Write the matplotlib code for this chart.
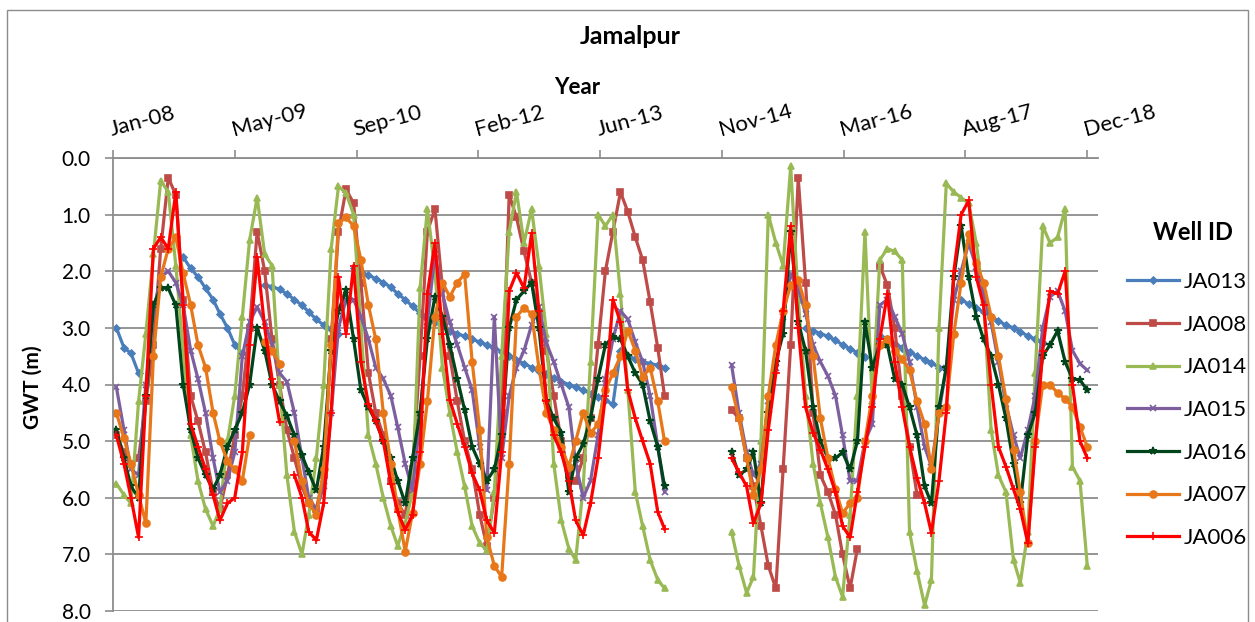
import numpy as np
import matplotlib
matplotlib.use('Agg')
import matplotlib.pyplot as plt
from matplotlib.patches import Rectangle
from datetime import date, timedelta

plt.rcParams['font.family'] = ['Lato', 'DejaVu Sans']

N = None
# one value per month, mid-month, Jan 2008 .. Dec 2018
months = [date(y, m, 15) for y in range(2008, 2019) for m in range(1, 13)]

ja013 = [3.0, 3.35, 3.45, 3.8, N, N, N, N, N, 1.75, 1.95, 2.1,
         2.3, 2.5, 2.75, 3.0, 3.3, 3.45, N, N, 2.25, 2.27, 2.32, 2.4,
         2.5, 2.6, 2.72, 2.85, 2.95, 3.02, 3.1, N, 1.95, 2.02, 2.07, 2.13,
         2.2, 2.28, 2.4, 2.5, 2.62, 2.74, 2.82, 2.9, 2.97, 3.05, 3.1, 3.15,
         3.2, 3.25, 3.3, 3.35, 3.42, 3.5, 3.57, 3.63, 3.7, 3.76, 3.82, 3.88,
         3.95, 4.0, 4.05, 4.1, 4.16, 4.22, 4.28, 4.35, 3.4, 3.5, 3.55, 3.6,
         3.63, 3.66, 3.7, N, N, N, N, N, N, N, N, N,
         N, N, N, N, N, N, N, N, N, 3.0, 3.05, 3.1,
         3.15, 3.22, 3.3, 3.37, 3.44, 3.52, N, 3.15, 3.2, 3.28, 3.35, 3.42,
         3.5, 3.56, 3.62, 3.7, N, N, 2.5, 2.58, 2.65, 2.72, 2.8, 2.88,
         2.95, 3.0, 3.07, 3.14, 3.2, 3.27, N, N, N, N, N, N]

ja008 = [4.9, 5.2, 5.4, 5.3, 4.3, 3.3, 1.6, 0.35, 0.65, 2.5, 4.2, 4.65,
         5.2, 5.9, 6.2, 5.6, 4.9, 4.2, 3.0, 1.3, 2.0, 3.2, 4.0, 4.8,
         5.3, 5.8, 6.1, 6.2, 5.6, 3.2, 1.3, 0.55, 0.8, 2.2, 3.8, 4.5,
         4.9, 5.7, 6.1, 6.3, 5.5, 3.5, 1.3, 0.9, 2.3, 3.5, 4.3, 5.0,
         5.5, 6.3, 6.85, 6.0, 4.5, 0.65, 1.05, 1.65, 2.2, 2.75, 3.4, 4.2,
         5.0, 5.6, 5.7, 5.3, 4.6, 3.3, 2.0, 1.3, 0.6, 0.95, 1.4, 1.8,
         2.55, 3.35, 4.2, N, N, N, N, N, N, N, N, 4.45,
         4.6, 5.3, 5.8, 6.5, 7.2, 7.6, 5.5, 3.3, 0.35, 2.2, 4.5, 5.6,
         5.9, 6.3, 7.0, 7.6, 6.9, N, N, 1.9, 2.25, 3.0, 4.2, 5.1,
         5.95, N, N, N, N, N, N, N, N, N, N, N,
         N, N, N, N, N, N, N, N, N, N, N, N]

ja014 = [5.75, 5.95, 6.1, 4.3, 3.1, 1.7, 0.4, 0.6, 1.9, 3.4, 4.9, 5.7,
         6.2, 6.5, 6.2, 5.0, 4.2, 2.8, 1.45, 0.7, 1.7, 1.9, 4.0, 5.6,
         6.6, 7.0, 6.3, 5.3, 4.0, 1.6, 0.5, 0.62, 1.0, 3.0, 4.9, 5.4,
         6.0, 6.5, 6.85, 6.45, 5.9, 2.3, 0.9, 2.0, 3.7, 4.5, 5.2, 5.8,
         6.5, 6.8, 6.93, 5.9, 3.5, 1.3, 0.6, 1.5, 0.9, 1.9, 3.1, 5.4,
         6.4, 6.9, 7.1, 5.8, 3.6, 1.0, 1.2, 1.0, 2.4, 4.1, 5.9, 6.5,
         7.1, 7.45, 7.6, N, N, N, N, N, N, N, N, 6.6,
         7.2, 7.68, 7.4, 5.0, 1.0, 1.5, 1.9, 0.15, 2.5, 4.2, 5.4, 6.1,
         6.7, 7.4, 7.75, 6.3, 4.2, 1.3, 4.3, 1.8, 1.6, 1.65, 1.8, 6.6,
         7.3, 7.9, 7.45, 3.0, 0.45, 0.6, 0.7, 0.8, 1.5, 2.5, 4.8, 5.6,
         5.9, 7.1, 7.5, 6.6, 3.8, 1.2, 1.5, 1.4, 0.9, 5.45, 5.7, 7.2]

ja015 = [4.05, 4.8, 5.5, 5.6, 4.0, 2.7, 2.1, 2.0, 2.2, 2.6, 3.4, 3.9,
         4.5, 5.3, 5.9, 5.7, 5.2, 3.5, 2.9, 2.63, 2.9, 3.3, 3.8, 3.95,
         4.5, 5.3, 6.0, 6.2, 5.8, 4.5, 3.0, 2.5, 2.5, 2.8, 3.2, 3.7,
         3.9, 4.2, 4.75, 5.4, 5.87, 4.6, 2.9, 1.7, 2.4, 2.9, 3.3, 3.7,
         4.1, 5.1, 5.87, 2.8, 5.3, 4.2, 3.7, 3.4, 2.95, 2.63, 3.27, 3.6,
         4.0, 4.4, 5.4, 6.0, 5.7, 4.9, 3.9, 3.2, 2.7, 2.85, 3.25, 3.6,
         4.2, 5.1, 5.9, N, N, N, N, N, N, N, N, 3.65,
         4.5, 5.2, 5.6, 5.4, 4.3, 3.7, 2.8, 2.05, 2.3, 2.75, 3.3, 3.6,
         3.85, 4.2, 4.9, 5.7, 5.7, 5.0, 4.7, 2.6, 2.5, 2.8, 3.1, 3.6,
         4.4, 5.1, 5.45, 4.5, 3.7, 2.5, 2.0, 1.5, 1.93, 2.4, 2.9, 3.6,
         4.35, 4.9, 5.3, 4.8, 4.2, 3.0, 2.45, 2.35, 2.7, 3.4, 3.63, 3.75]

ja016 = [4.8, 5.3, 5.8, 6.0, 4.2, 2.6, 2.3, 2.3, 2.6, 4.0, 4.8, 5.3,
         5.6, 5.85, 5.6, 5.1, 4.8, 4.5, 4.0, 3.0, 3.4, 4.0, 4.3, 4.55,
         4.9, 5.25, 5.55, 5.87, 5.1, 3.4, 2.7, 2.33, 3.2, 4.1, 4.4, 4.65,
         5.0, 5.3, 5.7, 6.1, 5.3, 4.5, 3.2, 2.45, 2.8, 3.3, 3.9, 4.45,
         5.1, 5.4, 5.7, 5.5, 4.9, 3.0, 2.5, 2.35, 2.2, 3.0, 4.3, 4.6,
         4.85, 5.9, 5.3, 5.05, 4.6, 3.9, 3.3, 3.16, 3.2, 3.5, 3.8, 4.0,
         4.65, 5.1, 5.8, N, N, N, N, N, N, N, N, 5.2,
         5.6, 5.5, 5.2, 6.1, 4.5, 3.6, 3.1, 1.3, 2.9, 3.4, 4.4, 5.0,
         5.3, 5.3, 5.2, 5.5, 5.0, 2.9, 3.7, 3.3, 3.3, 3.9, 4.0, 4.4,
         4.9, 5.8, 6.1, 4.4, 3.7, 2.1, 1.2, 2.1, 2.8, 3.2, 3.5, 4.0,
         4.6, 5.4, 6.1, 4.9, 4.5, 3.5, 3.3, 3.05, 3.6, 3.9, 3.92, 4.1]

ja007 = [4.5, 4.95, 5.4, 5.95, 6.45, 3.5, 2.1, 1.6, 1.4, 2.03, 2.6, 3.3,
         3.7, 4.5, 5.0, 5.35, 5.5, 5.7, 4.9, N, 3.25, 3.4, 3.63, N,
         5.0, 5.7, 6.1, 6.3, 5.5, 3.3, 1.15, 1.05, 1.2, 1.8, 2.6, 3.2,
         4.5, 5.4, 6.2, 6.95, 6.27, 5.4, 4.3, 2.8, 2.2, 2.45, 2.2, 2.05,
         3.6, 4.8, 6.7, 7.2, 7.4, 5.4, 2.8, 2.65, 2.75, 3.7, 4.5, 4.8,
         5.1, 5.45, 5.0, 4.5, 4.86, 4.7, 4.1, 3.8, 3.5, 3.05, 3.4, 3.87,
         3.7, 4.3, 5.0, N, N, N, N, N, N, N, N, 4.05,
         4.6, 5.3, 5.95, 5.5, 4.2, 3.3, 2.7, 2.25, 2.15, 2.6, 3.5, 4.6,
         5.3, 5.85, 6.27, 6.1, 6.0, 5.0, 4.2, 3.3, 3.2, 3.4, 3.55, 3.75,
         4.3, 4.7, 5.5, 4.5, 4.4, 3.1, 2.2, 1.35, 1.85, 2.2, 2.8, 3.5,
         4.25, 5.15, 5.9, 6.8, 5.0, 4.0, 4.0, 4.15, 4.25, 4.4, 4.75, 5.1]

ja006 = [4.9, 5.4, 6.0, 6.7, 4.2, 1.6, 1.4, 1.6, 0.6, 2.6, 4.7, 5.1,
         5.5, 5.95, 6.4, 6.1, 6.0, 5.2, 3.3, 1.75, 3.0, 3.9, 4.66, N,
         5.6, 6.0, 6.6, 6.75, 6.1, 4.5, 2.1, 3.1, 1.9, 3.6, 4.35, 4.65,
         5.0, 5.75, 6.25, 6.57, 6.3, 5.2, 2.4, 1.5, 3.1, 4.27, 4.7, 5.1,
         5.57, 5.87, 6.4, 6.62, 5.2, 2.35, 2.03, 2.3, 1.33, 2.7, 4.3, 4.9,
         5.2, 5.7, 6.4, 6.66, 6.1, 5.3, 4.2, 2.5, 2.9, 4.1, 4.6, 5.0,
         5.4, 6.25, 6.55, N, N, N, N, N, N, N, N, 5.3,
         5.55, 5.8, 6.45, 6.1, 4.8, 3.8, 2.7, 1.2, 3.0, 4.4, 4.85, 5.15,
         5.5, 5.9, 6.5, 6.7, 5.9, 5.1, 4.4, 3.2, 2.4, 3.6, 4.4, 5.1,
         5.65, 6.1, 6.62, 5.7, 4.5, 2.0, 1.0, 0.75, 2.1, 2.6, 4.0, 5.1,
         5.45, 5.85, 6.2, 6.8, 5.1, 3.4, 2.35, 2.4, 2.0, 4.0, 5.0, 5.3]

wells = ['JA013', 'JA008', 'JA014', 'JA015', 'JA016', 'JA007', 'JA006']
series = [ja013, ja008, ja014, ja015, ja016, ja007, ja006]
colors = ['#4A7EBB', '#BE4B48', '#98B954', '#7D5FA0', '#00441B', '#E8771A', '#FF0000']
markers = ['D', 's', '^', 'x', '*', 'o', '+']
msizes = [3.5, 4.5, 5, 4.5, 5.5, 5, 5.5]

start = date(2008, 1, 1)
tick_dates = [start + timedelta(days=500 * k) for k in range(9)]
tick_labels = ['Jan-08', 'May-09', 'Sep-10', 'Feb-12', 'Jun-13',
               'Nov-14', 'Mar-16', 'Aug-17', 'Dec-18']

fig = plt.figure(figsize=(12.55, 6.22), dpi=100)
ax = fig.add_axes([113 / 1255, 11 / 622, 985 / 1255, 453 / 622])

for name, vals, c, mk, ms in zip(wells, series, colors, markers, msizes):
    y = np.array(vals, dtype=float)
    ax.plot(months, y, color=c, lw=2.3, marker=mk, ms=ms, mew=1.2,
            mfc=c, mec=c, label=name)

ax.set_xlim(start, start + timedelta(days=4045))
ax.set_ylim(8, 0)
ax.set_yticks(range(9))
ax.set_yticklabels([f'{v:.1f}' for v in range(9)])
ax.set_xticks(tick_dates)
ax.set_xticklabels(tick_labels)
ax.xaxis.tick_top()

grey = '#8C8C8C'
ax.yaxis.grid(True, color=grey, lw=1.3)
ax.set_axisbelow(True)
for s in ['right', 'bottom']:
    ax.spines[s].set_visible(False)
for s in ['top', 'left']:
    ax.spines[s].set_color(grey)
    ax.spines[s].set_linewidth(1.3)
ax.tick_params(axis='x', direction='out', length=6, width=1.2, color=grey,
               labelsize=16, pad=7)
ax.tick_params(axis='y', direction='out', length=6, width=1.2, color=grey,
               labelsize=15, pad=10)
for lab in ax.get_xticklabels():
    lab.set_rotation(15)
    lab.set_ha('left')
    lab.set_rotation_mode('anchor')

fig.text(630 / 1255, 1 - 37 / 622, 'Jamalpur', ha='center', va='center',
         fontsize=18, fontweight='bold')
fig.text(577 / 1255, 1 - 88 / 622, 'Year', ha='center', va='center',
         fontsize=16, fontweight='bold')
fig.text(33 / 1255, 1 - 387 / 622, 'GWT (m)', ha='center', va='center',
         rotation=90, fontsize=15, fontweight='bold')
fig.text(1193 / 1255, 1 - 233 / 622, 'Well ID', ha='center', va='center',
         fontsize=17, fontweight='bold')

leg = ax.legend(loc='upper left',
                bbox_to_anchor=(1127 / 1255, 1 - 272 / 622),
                bbox_transform=fig.transFigure, frameon=False, fontsize=16,
                handlelength=2.35, handletextpad=0.2, labelspacing=1.02,
                borderpad=0, borderaxespad=0)

fig.patches.append(Rectangle((7 / 1255, -0.1), 1241 / 1255, 1.1 - 10 / 622,
                             transform=fig.transFigure, fill=False,
                             ec=grey, lw=1))

fig.savefig('out.png', dpi=100)
